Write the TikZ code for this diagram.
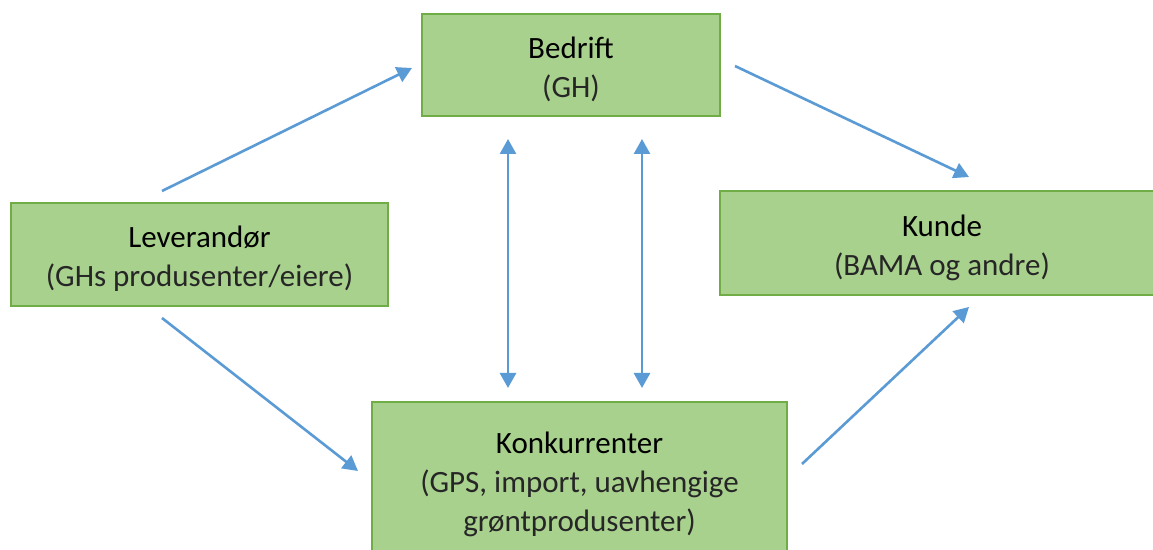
\documentclass[tikz,border=0pt]{standalone}
\usepackage{fontspec}
\setmainfont{Carlito}
\usetikzlibrary{arrows.meta}
\definecolor{boxfill}{HTML}{A9D18E}
\definecolor{boxline}{HTML}{70AD47}
\definecolor{flow}{HTML}{5B9BD5}
\definecolor{subtext}{HTML}{262626}
% strut that lowers the text block a little inside each box
\newcommand{\topstrut}{\rule{0pt}{15.5pt}}
\begin{document}
\begin{tikzpicture}[x=0.5pt,y=-0.5pt,
  box/.style={draw=boxline, fill=boxfill, line width=0.6pt, inner sep=0pt,
    align=center, font=\fontsize{15.5}{19.5}\selectfont},
  tip/.tip={Triangle[width=8pt,length=7.5pt]},
  link/.style={draw=flow, line width=1.3pt, -tip},
  twoway/.style={draw=flow, line width=1.3pt, tip-tip}]
\clip (0,0) rectangle (1153,550);
\fill[white] (0,0) rectangle (1153,550);

% actors
\node[box, minimum width=149pt, minimum height=51pt] (bed) at (571,65)
  {\topstrut Bedrift\\\textcolor{subtext}{(GH)}};
\node[box, minimum width=188.5pt, minimum height=51.5pt] (lev) at (199.5,254.5)
  {\topstrut Leverand\o r\\\textcolor{subtext}{(GHs produsenter/eiere)}};
\node[box, minimum width=222pt, minimum height=52pt] (kun) at (942,243)
  {\topstrut Kunde\\\textcolor{subtext}{(BAMA og andre)}};
\node[box, minimum width=207.5pt, minimum height=78pt] (kon) at (579.5,480)
  {\topstrut Konkurrenter\\\textcolor{subtext}{(GPS, import, uavhengige}\\\textcolor{subtext}{gr\o ntprodusenter)}};

% arrow ends, kept clear of the boxes
\coordinate (levBedA) at (162,191);
\coordinate (levBedB) at (412,68);
\coordinate (bedKunA) at (735,66);
\coordinate (bedKunB) at (969,177);
\coordinate (levKonA) at (162,318);
\coordinate (levKonB) at (358,471);
\coordinate (konKunA) at (802,464);
\coordinate (konKunB) at (969,307);
\coordinate (vLtop) at (508,139);
\coordinate (vLbot) at (508,388);
\coordinate (vRtop) at (642,139);
\coordinate (vRbot) at (642,388);

\draw[link] (levBedA) -- (levBedB);
\draw[link] (bedKunA) -- (bedKunB);
\draw[link] (levKonA) -- (levKonB);
\draw[link] (konKunA) -- (konKunB);
\draw[twoway] (vLtop) -- (vLbot);
\draw[twoway] (vRtop) -- (vRbot);
\end{tikzpicture}
\end{document}
